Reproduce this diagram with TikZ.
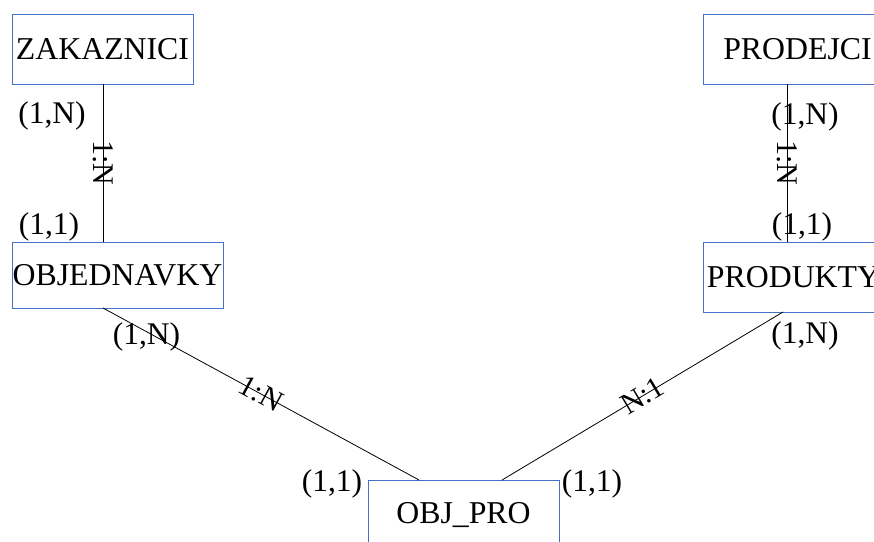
\documentclass[tikz,border=0pt]{standalone}
\usepackage{fontspec}
\setmainfont{Liberation Serif}
\definecolor{boxblue}{RGB}{68,114,196}
\begin{document}
\begin{tikzpicture}[x=1pt,y=-1pt,
  entity/.style={draw=boxblue,line width=0.9pt,inner sep=0pt,outer sep=0pt,font=\fontsize{31.8}{36}\selectfont},
  card/.style={inner sep=0pt,font=\fontsize{31.5}{36}\selectfont},
  rel/.style={midway,sloped,inner sep=0pt,font=\fontsize{30}{34}\selectfont},
  conn/.style={draw=black,line width=0.8pt}]
\useasboundingbox (0,0) rectangle (874,541);
\clip (0,0) rectangle (874,541);
\node[entity,minimum width=181pt,minimum height=70pt] (zak) at (102.5,49) {ZAKAZNICI};
\node[entity,minimum width=211pt,minimum height=66pt] (objed) at (117.5,275) {OBJEDNAVKY};
\node[entity,minimum width=189pt,minimum height=70pt] (prodejci) at (797.5,49) {PRODEJCI};
\node[entity,minimum width=181pt,minimum height=70pt] (produkty) at (793.5,277) {PRODUKTY};
\node[entity,minimum width=191pt,minimum height=70pt] (objpro) at (463.5,515) {OBJ\_PRO};

\draw[conn] ([xshift=91pt]zak.south west) -- ([xshift=91pt]zak.south west |- objed.north) node[rel] {1:N};
\draw[conn] ([xshift=84pt]prodejci.south west) -- ([xshift=84pt]prodejci.south west |- produkty.north) node[rel] {1:N};
\draw[conn] ([xshift=91pt]objed.south west) -- ([xshift=51pt]objpro.north west) node[rel] {1:N};
\draw[conn] ([xshift=134pt]objpro.north west) -- ([xshift=80pt]produkty.south west) node[rel] {N:1};

\node[card] (c1) at (52,116) {(1,N)};
\node[card] (c2) at (49,226.5) {(1,1)};
\node[card] (c3) at (805,116.5) {(1,N)};
\node[card] (c4) at (802,226.5) {(1,1)};
\node[card] (c5) at (805,336) {(1,N)};
\node[card] (c6) at (146.5,337) {(1,N)};
\node[card] (c7) at (332,484) {(1,1)};
\node[card] (c8) at (592,484) {(1,1)};
\end{tikzpicture}
\end{document}
